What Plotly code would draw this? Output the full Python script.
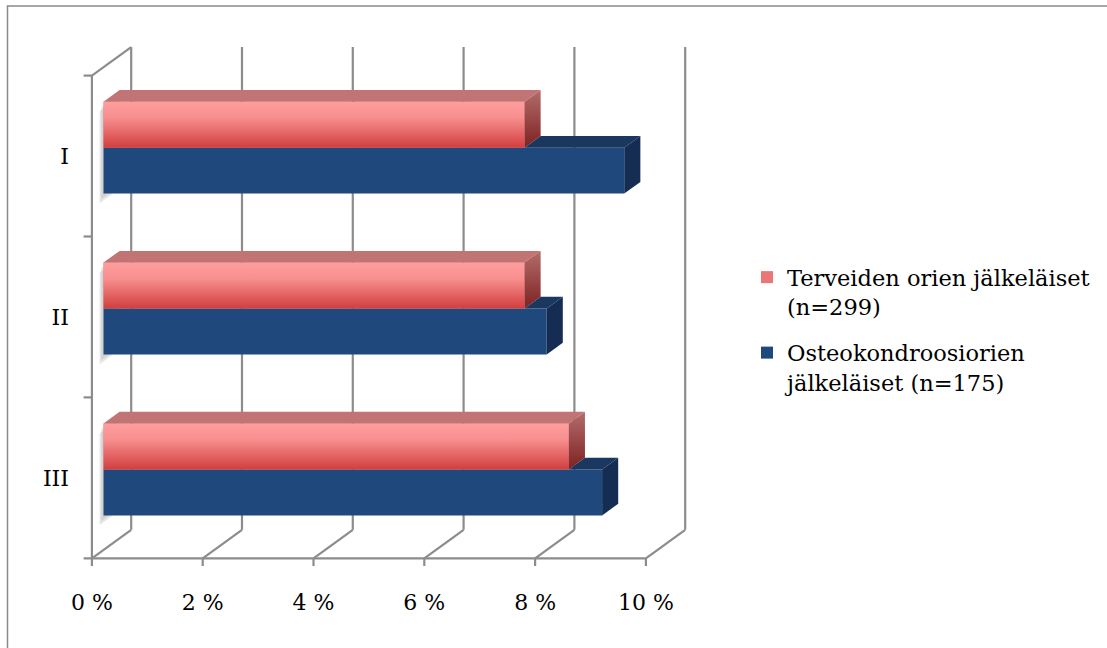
import plotly.graph_objects as go

# ---------------- data ----------------
categories = ["I", "II", "III"]
healthy = [7.6, 7.6, 8.4]      # Terveiden orien jälkeläiset (n=299), %
ocd = [9.4, 8.0, 9.0]          # Osteokondroosiorien jälkeläiset (n=175), %
x_ticks = [0, 2, 4, 6, 8, 10]
x_tick_labels = ["0 %", "2 %", "4 %", "6 %", "8 %", "10 %"]
series_names = ["Terveiden orien jälkeläiset<br>(n=299)",
                "Osteokondroosiorien<br>jälkeläiset (n=175)"]

# ---------------- pseudo-3D projection (data units) ----------------
DX = 0.709   # x shift for full depth
DY = 0.177   # y shift (upwards) for full depth
D0 = 0.295   # depth of the bar front plane
BD = 0.41    # bar depth as a fraction of full depth
BW = 0.2857  # bar thickness (category units)
pos = list(range(len(categories)))
k_top, k_bot = -0.5, len(categories) - 0.5


def P(v, k, d):
    return v + (d - D0) * DX, k + (D0 - d) * DY


FONT = "DejaVu Serif"
GRID = "#8c8c8c"

fig = go.Figure()

# bar fronts (real bar traces)
fig.add_trace(go.Bar(orientation="h", x=healthy, y=pos, offset=-BW, width=BW,
                     marker=dict(color="#ea7676", line=dict(width=0)),
                     name=series_names[0], legendgroup="healthy", hoverinfo="skip"))
fig.add_trace(go.Bar(orientation="h", x=ocd, y=pos, offset=0, width=BW,
                     marker=dict(color="#1f487c", line=dict(width=0)),
                     name=series_names[1], legendgroup="ocd", hoverinfo="skip"))

bdx, bdy = BD * DX, -BD * DY


def poly(xs, ys, color=None, grad=None):
    kw = dict(x=xs + [xs[0]], y=ys + [ys[0]], mode="lines", fill="toself",
              line=dict(width=0), showlegend=False, hoverinfo="skip")
    if grad is not None:
        kw["fillgradient"] = dict(type="vertical", colorscale=grad)
    else:
        kw["fillcolor"] = color
    fig.add_trace(go.Scatter(**kw))


for c, vr, vb in zip(pos, healthy, ocd):
    # red bar: y from c-BW (top) to c (bottom)
    y0, y1 = c - BW, c
    poly([0, vr, vr, 0], [y0, y0, y1, y1],
         grad=[[0, "#d23e3e"], [0.65, "#f78f8f"], [1, "#ff9d9d"]])
    poly([0, vr, vr + bdx, bdx], [y0, y0, y0 + bdy, y0 + bdy], color="#c27474")
    poly([vr, vr + bdx, vr + bdx, vr], [y0, y0 + bdy, y1 + bdy, y1],
         grad=[[0, "#7e2222"], [1, "#b46c6c"]])
    # blue bar: y from c (top) to c+BW (bottom)
    b0, b1 = c, c + BW
    xl = min(vr, vb)
    poly([xl, vb, vb + bdx, xl + bdx], [b0, b0, b0 + bdy, b0 + bdy], color="#1a375f")
    poly([vb, vb + bdx, vb + bdx, vb], [b0, b0 + bdy, b1 + bdy, b1], color="#152d52")

# ---------------- walls / grid as shapes below traces ----------------
shapes = []


def seg(a, b, color=GRID, width=2.2):
    shapes.append(dict(type="line", xref="x", yref="y", layer="below",
                       x0=a[0], y0=a[1], x1=b[0], y1=b[1],
                       line=dict(color=color, width=width)))


for v in x_ticks:
    seg(P(v, k_top, 1), P(v, k_bot, 1))          # back wall verticals
    seg(P(v, k_bot, 0), P(v, k_bot, 1))          # floor diagonals
    fx, fy = P(v, k_bot, 0)
    seg((fx, fy), (fx, fy + 0.05))               # tick marks below floor
seg(P(0, k_top, 0), P(0, k_bot, 0))              # left wall front edge
seg(P(0, k_top, 0), P(0, k_top, 1))              # left wall top edge
fx0, fy0 = P(0, k_bot, 0)
fx1, _ = P(x_ticks[-1], k_bot, 0)
seg((fx0 - 0.15, fy0), (fx1, fy0))               # floor front edge
for k in [k_top + i for i in range(len(categories))]:
    tx, ty = P(0, k, 0)
    seg((tx - 0.15, ty), (tx, ty))               # category ticks

# soft shadows at bar left ends
for c in pos:
    ys0, ys1 = c - BW, c + BW
    for sx, sy, a in [(-0.07, 0.06, 0.22), (-0.04, 0.035, 0.22)]:
        pts = [(sx, ys0 + sy), (sx + bdx, ys0 + sy + bdy),
               (sx + bdx, ys1 + sy + bdy), (sx, ys1 + sy)]
        path = "M " + " L ".join(f"{x},{y}" for x, y in pts) + " Z"
        shapes.append(dict(type="path", xref="x", yref="y", layer="below", path=path,
                           fillcolor=f"rgba(140,140,140,{a})", line=dict(width=0)))

# outer chart border (only top/left visible in the frame)
L, T, W, H = 75, 35, 643, 531
shapes.append(dict(type="rect", xref="paper", yref="paper",
                   x0=(7.5 - L) / W, x1=(1115 - L) / W,
                   y0=1 - (655 - T) / H, y1=1 + (T - 6) / H,
                   line=dict(color="#8a8a8a", width=1.5), fillcolor="rgba(0,0,0,0)",
                   layer="below"))

fig.update_layout(
    width=1107, height=648,
    margin=dict(l=L, r=1107 - L - W, t=T, b=648 - T - H),
    paper_bgcolor="white", plot_bgcolor="white",
    barmode="overlay", shapes=shapes,
    font=dict(family=FONT, size=22, color="black"),
    showlegend=True,
    legend=dict(x=(747 - L) / W, y=1 - (256 - T) / H, xanchor="left", yanchor="top",
                valign="top", tracegroupgap=14, font=dict(family=FONT, size=22.5),
                bgcolor="rgba(0,0,0,0)"),
    xaxis=dict(range=[-(103.5 - L) / 55.4, (L + W - 103.5) / 55.4],
               showgrid=False, zeroline=False, showline=False, ticks="",
               tickvals=[P(v, k_bot, 0)[0] for v in x_ticks], ticktext=x_tick_labels,
               ticklabelstandoff=21, automargin=False, fixedrange=True),
    yaxis=dict(range=[2.6, -0.7], showgrid=False, zeroline=False, showline=False,
               ticks="", tickvals=[P(0, c, 0)[1] for c in pos], ticktext=categories,
               ticklabelstandoff=5, automargin=False, fixedrange=True),
)

fig.write_html("out.html")
